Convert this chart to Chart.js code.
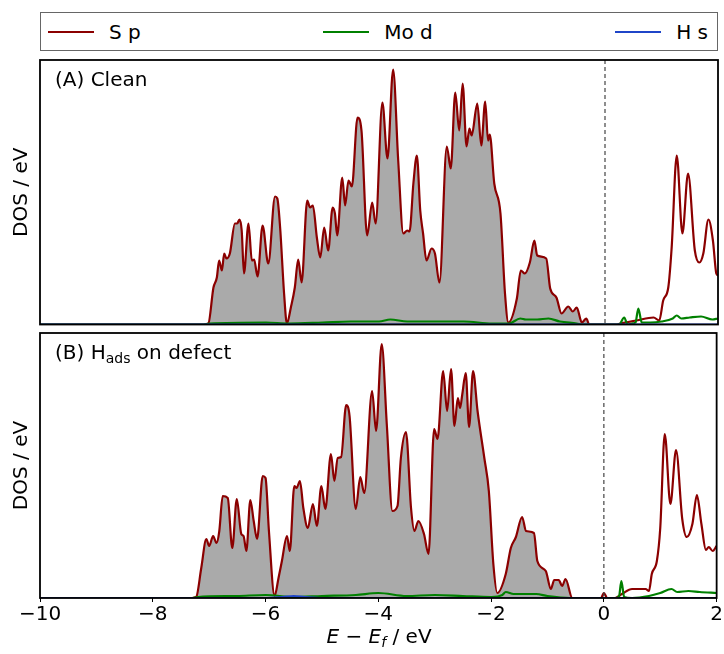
<!DOCTYPE html>
<html lang="en">
<head>
<meta charset="UTF-8" />
<title>DOS</title>
<script src="https://cdn.jsdelivr.net/npm/chart.js"></script>
<style>
  body { margin: 0; background: #fff; font-family: 'DejaVu Sans', sans-serif; }
  #page { position: relative; width: 724px; height: 654px; }
  .legend {
    position: absolute; left: 40px; top: 12px; width: 678px; height: 39px;
    border: 1px solid #666; display: flex; justify-content: space-between;
    align-items: center; padding: 0 9px 0 7px; box-sizing: border-box;
    font-size: 20px;
  }
  .legend .item { display: flex; align-items: center; }
  .legend .swatch { width: 46px; height: 2px; margin-right: 15px; }
  .panel { position: absolute; left: 0; width: 724px; }
  .tag { position: absolute; left: 55px; font-size: 20px; line-height: 20px; white-space: nowrap; }
  .tag sub { font-size: 14px; vertical-align: -4px; line-height: 0; }
  .xtitle { position: absolute; left: 40px; width: 678px; top: 626px; text-align: center; font-size: 20px; line-height: 20px; }
  .xtitle sub { font-size: 14px; vertical-align: -4px; line-height: 0; }
</style>
</head>
<body>
<div id="page">
  <div class="legend" id="legend"></div>
  <div class="panel" style="top:50px;height:280px"><canvas id="chartA" width="724" height="280"></canvas></div>
  <div class="panel" style="top:330px;height:324px"><canvas id="chartB" width="724" height="324"></canvas></div>
  <div class="tag" style="top:69px">(A) Clean</div>
  <div class="tag" style="top:342px">(B) H<sub>ads</sub> on defect</div>
  <div class="xtitle"><i>E</i> − <i>E<sub>f</sub></i> / eV</div>
</div>

<script>
const seriesNames = ['S p', 'Mo d', 'H s'];
const seriesColors = ['#8b0000', '#008000', '#1f45c8'];
const xTicks = [-10, -8, -6, -4, -2, 0, 2];

// (A) clean surface
const eSpA = [-10, -7.10, -7.02, -6.93, -6.87, -6.83, -6.78, -6.74, -6.70, -6.64, -6.55, -6.51, -6.47, -6.43, -6.39,
  -6.31, -6.25, -6.21, -6.15, -6.06, -5.96, -5.84, -5.80, -5.75, -5.68, -5.63, -5.56, -5.49, -5.43, -5.37,
  -5.27, -5.22, -5.17, -5.10, -5.04, -4.97, -4.90, -4.82, -4.78, -4.74, -4.65, -4.60, -4.54, -4.48, -4.38,
  -4.31, -4.21, -4.12, -4.06, -3.94, -3.85, -3.75, -3.66, -3.57, -3.50, -3.46, -3.39, -3.33, -3.27, -3.22,
  -3.16, -3.07, -3.01, -2.93, -2.80, -2.73, -2.65, -2.58, -2.52, -2.45, -2.40, -2.36, -2.26, -2.19, -2.12,
  -2.07, -2.04, -1.96, -1.85, -1.77, -1.71, -1.56, -1.49, -1.42, -1.33, -1.25, -1.20, -1.04, -0.97, -0.86,
  -0.77, -0.65, -0.57, -0.50, -0.41, -0.33, -0.28, 0.20, 0.27, 0.56, 0.86, 0.96, 1.03, 1.12, 1.18,
  1.27, 1.37, 1.47, 1.59, 1.67, 1.74, 1.83, 1.91, 1.97, 2.0];
const spA = [0, 0, 0.1, 3.7, 4.7, 6.4, 5.4, 7.1, 6.6, 7.1, 10.1, 10.1, 10.5, 9.4, 5.1,
  10.1, 6.4, 6.5, 4.8, 9.9, 6.1, 12.8, 12.6, 9.7, 3.1, 0.1, 1.7, 3.7, 6.5, 4.2,
  12.4, 11.7, 11.9, 8.7, 6.7, 9.7, 7.4, 11.7, 11.1, 8.9, 14.7, 11.9, 14.4, 13.8, 20.7,
  19.4, 8.9, 12.2, 10.1, 22.2, 16.6, 25.5, 16.4, 9.1, 9.4, 9.3, 14.2, 16.9, 11.4, 9.1,
  6.4, 7.6, 7.1, 4.2, 17.8, 15.6, 23.2, 19.4, 24.1, 17.8, 19.6, 18.9, 22.1, 17.9, 22.3,
  18.4, 19.0, 14.1, 11.1, 3.1, 0.2, 2.6, 5.4, 5.1, 6.2, 8.4, 6.9, 6.6, 3.6, 2.7,
  1.1, 1.8, 1.3, 1.7, 0.2, 0.6, 0, 0, 0.1, 0.4, 0.7, 0.4, 2.4, 3.7, 7.7,
  16.9, 9.1, 15.1, 7.4, 6.2, 7.1, 10.5, 8.4, 5.1, 4.9];
const eModA = [-10, -7.1, -7.0, -6.0, -5.6, -5.0, -4.5, -4.0, -3.8, -3.5, -3.0, -2.5, -2.0, -1.7, -1.5,
  -1.4, -1.2, -1.0, -0.8, -0.5, -0.4, 0.25, 0.34, 0.40, 0.48, 0.54, 0.59, 0.65, 0.8, 1.0,
  1.2, 1.27, 1.35, 1.5, 1.7, 1.9, 2.0];
const modA = [0, 0, 0.1, 0.2, 0.1, 0.2, 0.3, 0.3, 0.5, 0.3, 0.3, 0.3, 0.1, 0.1, 0.6,
  0.5, 0.5, 0.6, 0.3, 0.1, 0, 0, 0.7, 0, 0.1, 0.2, 1.6, 0.2, 0.2, 0.3,
  0.6, 0.9, 0.6, 0.7, 0.8, 0.5, 0.6];
const eHsA = [-10, 2];
const hsA = [0, 0];

// (B) H adsorbed on defect
const eSpB = [-10, -7.30, -7.23, -7.14, -7.05, -7.00, -6.93, -6.87, -6.82, -6.76, -6.67, -6.59, -6.51, -6.43, -6.39,
  -6.34, -6.27, -6.21, -6.15, -6.05, -6.00, -5.94, -5.84, -5.77, -5.71, -5.62, -5.57, -5.49, -5.45, -5.39,
  -5.33, -5.25, -5.16, -5.09, -5.01, -4.94, -4.84, -4.78, -4.72, -4.66, -4.57, -4.51, -4.40, -4.32, -4.25,
  -4.11, -4.04, -3.94, -3.85, -3.75, -3.66, -3.60, -3.51, -3.42, -3.36, -3.29, -3.19, -3.11, -3.01, -2.95,
  -2.85, -2.78, -2.71, -2.65, -2.59, -2.55, -2.51, -2.45, -2.39, -2.32, -2.24, -2.12, -2.04, -1.96, -1.89,
  -1.74, -1.65, -1.56, -1.45, -1.38, -1.24, -1.18, -1.03, -0.94, -0.88, -0.80, -0.74, -0.68, -0.56, -0.05,
  0.0, 0.06, 0.20, 0.32, 0.50, 0.74, 0.80, 0.85, 0.94, 1.00, 1.08, 1.18, 1.28, 1.39, 1.47,
  1.57, 1.65, 1.73, 1.81, 1.86, 1.93, 2.0];
const spB = [0, 0, 0.1, 3.0, 5.9, 5.2, 6.2, 5.5, 6.7, 10.2, 10.0, 5.0, 9.9, 6.4, 6.2,
  4.7, 9.8, 7.7, 5.9, 12.2, 12.0, 6.7, 0.2, 2.0, 3.7, 6.2, 4.7, 11.2, 11.0, 11.7,
  9.0, 7.0, 9.4, 7.2, 11.2, 8.9, 14.4, 11.7, 14.0, 14.1, 19.3, 18.2, 8.9, 12.1, 10.5,
  20.7, 16.7, 25.4, 17.4, 8.7, 9.2, 14.0, 16.6, 9.0, 6.7, 7.7, 6.4, 4.4, 16.9, 15.9,
  22.7, 18.7, 22.9, 17.2, 20.0, 19.0, 20.4, 22.5, 17.1, 22.7, 18.7, 14.0, 10.7, 3.4, 0.5,
  2.4, 5.0, 6.1, 8.1, 6.7, 6.5, 3.7, 2.7, 0.9, 1.8, 1.8, 1.2, 1.9, 0, 0,
  0.5, 0, 0, 0.4, 0.9, 0.9, 0.7, 2.4, 3.7, 7.0, 16.4, 9.4, 14.8, 7.9, 6.1,
  7.4, 10.3, 7.4, 4.8, 5.1, 4.7, 5.2];
const eModB = [-10, -7.3, -7.2, -6.5, -6.0, -5.5, -5.0, -4.4, -4.0, -3.5, -3.0, -2.5, -2.0, -1.8, -1.74,
  -1.6, -1.2, -1.0, -0.6, 0.2, 0.27, 0.31, 0.36, 0.5, 0.8, 1.0, 1.2, 1.3, 1.5, 1.7, 2.0];
const modB = [0, 0, 0.1, 0.2, 0.3, 0.1, 0.2, 0.3, 0.5, 0.2, 0.3, 0.2, 0.1, 0.3, 0.6,
  0.4, 0.4, 0.2, 0, 0, 0.2, 1.7, 0.1, 0, 0.2, 0.5, 0.9, 0.6, 0.7, 0.6, 0.5];
const eHsB = [-10, -6.0, -5.7, -5.5, -5.3, -5.0, 2];
const hsB = [0, 0, 0.1, 0.2, 0.1, 0, 0];

const toPts = (xs, ys) => xs.map((x, i) => ({ x: x, y: ys[i] }));

// legend
const legend = document.getElementById('legend');
seriesNames.forEach((name, i) => {
  legend.insertAdjacentHTML('beforeend',
    `<div class="item"><span class="swatch" style="background:${seriesColors[i]}"></span><span>${name}</span></div>`);
});

const framePlugin = {
  id: 'frame',
  afterDatasetsDraw(chart) {
    const { ctx, chartArea: a, scales } = chart;
    const x0 = scales.x.getPixelForValue(0);
    ctx.save();
    ctx.strokeStyle = '#444';
    ctx.lineWidth = 1.2;
    ctx.setLineDash([4, 3]);
    ctx.beginPath();
    ctx.moveTo(x0, a.top);
    ctx.lineTo(x0, a.bottom);
    ctx.stroke();
    ctx.setLineDash([]);
    ctx.strokeStyle = '#000';
    ctx.lineWidth = 1.8;
    ctx.strokeRect(a.left, a.top, a.right - a.left, a.bottom - a.top);
    ctx.restore();
  }
};

function makeChart(id, sp, mod, hs, yMax, pad, showX) {
  const filled = sp.filter(p => p.x <= 0);
  const line = (data, color, order) => ({
    data, borderColor: color, borderWidth: 2.2, pointRadius: 0, fill: false,
    cubicInterpolationMode: 'monotone', order
  });
  return new Chart(document.getElementById(id), {
    type: 'line',
    data: {
      datasets: [
        { data: filled, borderWidth: 0, pointRadius: 0, fill: 'origin', backgroundColor: '#aaaaaa',
          cubicInterpolationMode: 'monotone', order: 10 },
        line(sp, seriesColors[0], 3),
        line(mod, seriesColors[1], 2),
        line(hs, seriesColors[2], 1)
      ]
    },
    options: {
      responsive: false,
      animation: false,
      layout: { padding: pad },
      plugins: { legend: { display: false }, tooltip: { enabled: false } },
      scales: {
        x: {
          type: 'linear', min: -10, max: 2, display: showX,
          afterBuildTicks: s => { s.ticks = xTicks.map(v => ({ value: v })); },
          afterFit: s => { s.height = showX ? 56 : 0; },
          grid: { display: true, drawOnChartArea: false, drawTicks: true, tickLength: 4, color: '#000' },
          border: { display: false },
          ticks: {
            color: '#000', padding: 1,
            font: { family: 'DejaVu Sans', size: 20 },
            callback: v => v < 0 ? '\u2212' + Math.abs(v) : String(v)
          }
        },
        y: {
          min: 0, max: yMax,
          afterFit: s => { s.width = 40; },
          grid: { display: false },
          border: { display: false },
          ticks: { display: false },
          title: { display: true, text: 'DOS / eV', color: '#000', padding: { top: 10, bottom: 0 },
            font: { family: 'DejaVu Sans', size: 20 } }
        }
      }
    },
    plugins: [framePlugin]
  });
}

makeChart('chartA', toPts(eSpA, spA), toPts(eModA, modA), toPts(eHsA, hsA), 26.45,
  { top: 10, bottom: 5.5, left: 0, right: 6 }, false);
makeChart('chartB', toPts(eSpB, spB), toPts(eModB, modB), toPts(eHsB, hsB), 26.5,
  { top: 3, bottom: 0, left: 0, right: 6 }, true);
</script>
</body>
</html>
